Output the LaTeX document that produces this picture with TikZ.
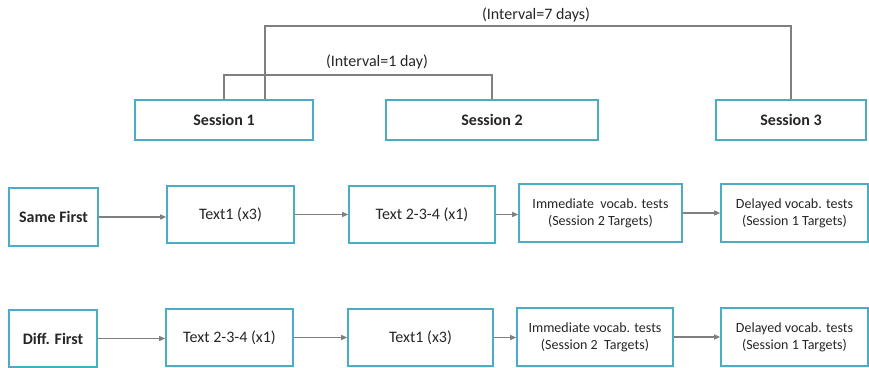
\documentclass[tikz,border=0pt]{standalone}
\usepackage{fontspec}
\setmainfont{Carlito}
\usetikzlibrary{arrows.meta}
\definecolor{teal1}{HTML}{4BACC6}
\definecolor{lgray}{HTML}{7F7F7F}
\definecolor{txt}{HTML}{262626}
\begin{document}
\begin{tikzpicture}[x=1pt,y=-1pt,
  box/.style={draw=teal1, line width=1.6pt, fill=white, inner sep=0pt, text=txt,
    font=\fontsize{16}{18}\selectfont, align=center},
  sbox/.style={box, font=\fontsize{14}{17}\selectfont},
  bbox/.style={box, font=\fontsize{16}{18}\selectfont\bfseries},
  conn/.style={draw=lgray, line width=1.2pt},
  arr/.style={conn, -{Triangle[length=6pt,width=5pt]}},
  lbl/.style={text=txt, font=\fontsize{16}{18}\selectfont, inner sep=0pt}]
\useasboundingbox (0,0) rectangle (869,367);
% sessions
\node[bbox, minimum width=178pt, minimum height=40pt] (s1) at (224,120) {Session 1};
\node[bbox, minimum width=212pt, minimum height=40pt] (s2) at (492,120) {Session 2};
\node[bbox, minimum width=150pt, minimum height=40pt] (s3) at (791,120) {Session 3};
% brackets
\coordinate (b1) at (224,75);
\coordinate (b7) at (265,26);
\draw[conn] (s1.north) -- (s1.north |- b1) -- (s2.north |- b1) -- (s2.north);
\draw[conn] ([xshift=41pt]s1.north) -- ([xshift=41pt]s1.north |- b7) -- (s3.north |- b7) -- (s3.north);
\node[lbl] (l1) at (377,62) {(Interval=1 day)};
\node[lbl] (l7) at (536,15) {(Interval=7 days)};
% row 1
\node[bbox, minimum width=89pt, minimum height=58pt] (sf) at (53.5,217) {Same First};
\node[box, minimum width=127pt, minimum height=57pt] (a1) at (230.5,214.5) {Text1 (x3)};
\node[box, minimum width=146pt, minimum height=57pt] (a2) at (422,214.5) {Text 2-3-4 (x1)};
\node[sbox, minimum width=163pt, minimum height=58pt] (a3) at (600.5,213) {Immediate\ \ vocab. tests\\(Session 2 Targets)};
\node[sbox, minimum width=147pt, minimum height=58pt] (a4) at (794.5,213) {Delayed vocab. tests\\(Session 1 Targets)};
% row 2
\node[bbox, minimum width=88pt, minimum height=57pt] (df) at (53,338.5) {Diff. First};
\node[box, minimum width=127pt, minimum height=57pt] (c1) at (229.5,337.5) {Text 2-3-4 (x1)};
\node[box, minimum width=145pt, minimum height=57pt] (c2) at (420.5,337.5) {Text1 (x3)};
\node[sbox, minimum width=156pt, minimum height=58pt] (c3) at (595,337) {Immediate vocab. tests\\(Session 2\ \ Targets)};
\node[sbox, minimum width=147pt, minimum height=58pt] (c4) at (794.5,337) {Delayed vocab. tests\\(Session 1 Targets)};
% arrows
\draw[arr] (sf.east) -- (sf.east -| a1.west);
\draw[arr] (a1.east) -- (a1.east -| a2.west);
\draw[arr] (a2.east) -- (a2.east -| a3.west);
\draw[arr] (a3.east) -- (a3.east -| a4.west);
\draw[arr] (df.east) -- (df.east -| c1.west);
\draw[arr] (c1.east) -- (c1.east -| c2.west);
\draw[arr] (c2.east) -- (c2.east -| c3.west);
\draw[arr] (c3.east) -- (c3.east -| c4.west);
\end{tikzpicture}
\end{document}
